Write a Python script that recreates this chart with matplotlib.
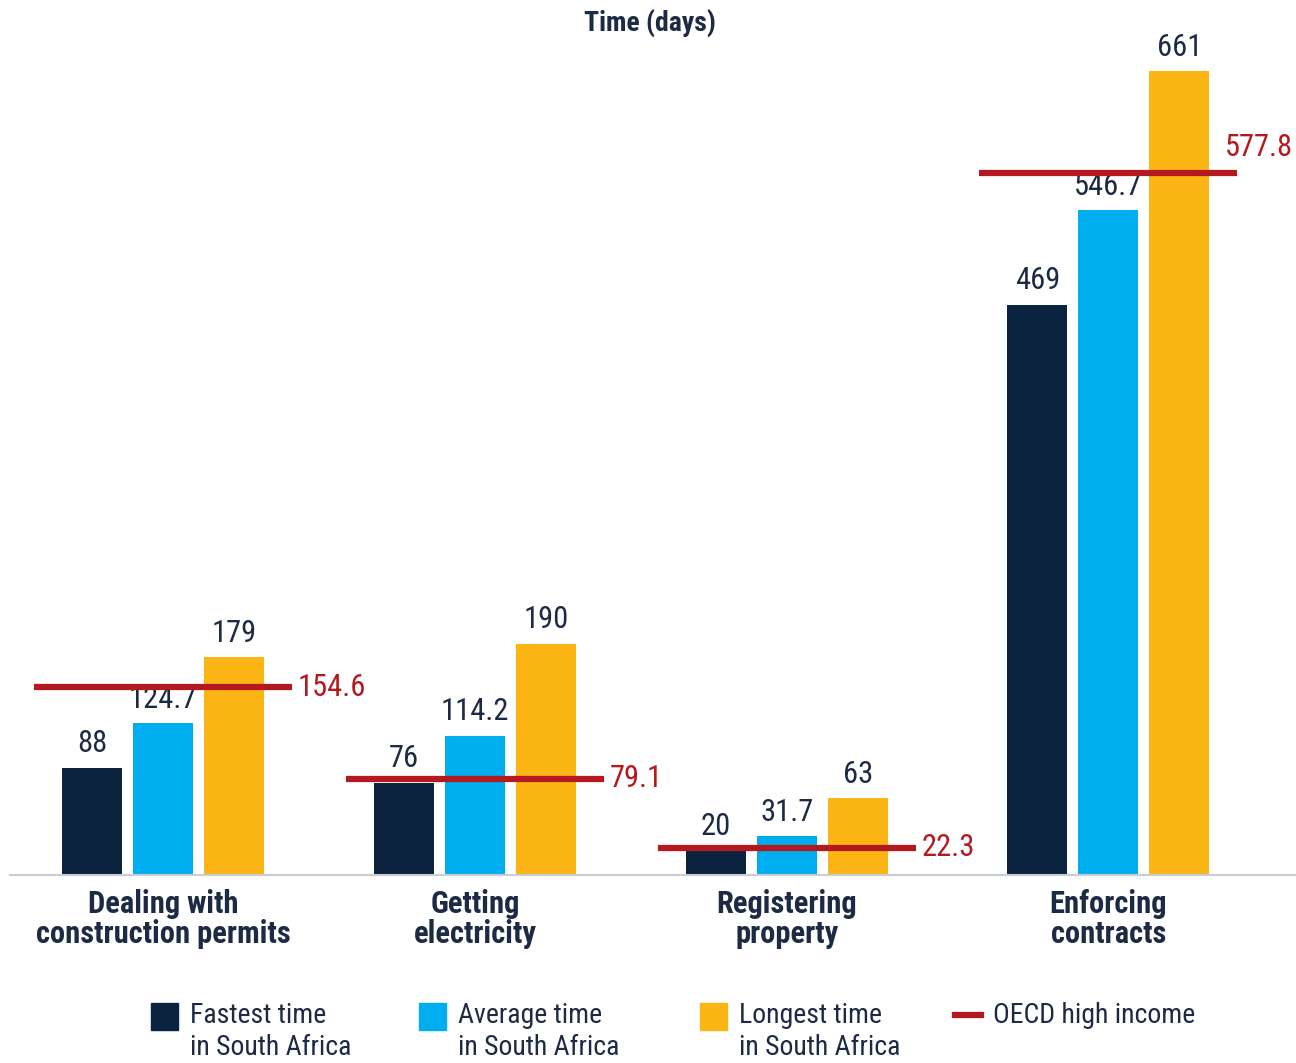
import numpy as np
import matplotlib
matplotlib.use("Agg")
import matplotlib.pyplot as plt
from matplotlib import font_manager
from matplotlib.patches import Rectangle
from matplotlib.lines import Line2D

# data
categories = ["Dealing with\nconstruction permits", "Getting\nelectricity",
              "Registering\nproperty", "Enforcing\ncontracts"]
fastest = [88, 76, 20, 469]
average = [124.7, 114.2, 31.7, 546.7]
longest = [179, 190, 63, 661]
oecd = [154.6, 79.1, 22.3, 577.8]
series_names = ["Fastest time\nin South Africa", "Average time\nin South Africa",
                "Longest time\nin South Africa", "OECD high income"]

NAVY = "#0c2340"
BLUE = "#00aeef"
YELLOW = "#fbb515"
RED = "#b3191f"
TEXT = "#1c2a44"

# pick a narrow font if one is around
names = {f.name for f in font_manager.fontManager.ttflist}
font = "DejaVu Sans"
for cand in ["Liberation Sans Narrow", "Roboto Condensed", "Open Sans Condensed", "Noto Sans"]:
    if cand in names:
        font = cand
        break
plt.rcParams["font.family"] = [font, "DejaVu Sans"]

W, H = 1296, 1063
fig = plt.figure(figsize=(W / 100, H / 100), dpi=100)
# axes placed so the baseline runs from px 10 to 1295 at y=875
ax = fig.add_axes([10 / W, 1 - 875 / H, 1285 / W, 851 / H])

group_x = np.array([0, 1, 2, 3.03])
step = 71 / 312
bw = 60 / 312
half = 129 / 312

for vals, col, off in [(fastest, NAVY, -step), (average, BLUE, 0), (longest, YELLOW, step)]:
    bars = ax.bar(group_x + off, vals, width=bw, color=col, zorder=2)
    for b, v in zip(bars, vals):
        ax.annotate(f"{v:g}", (b.get_x() + b.get_width() / 2, v), xytext=(0, 7),
                    textcoords="offset points", ha="center", va="bottom",
                    fontsize=22, color=TEXT)

for i, (gx, v) in enumerate(zip(group_x, oecd)):
    ax.plot([gx - half, gx + half], [v, v], color=RED, lw=4.5, solid_capstyle="butt", zorder=3)
    if i < len(oecd) - 1:
        ax.annotate(f"{v:g}", (gx + half, v), xytext=(4, 0), textcoords="offset points",
                    ha="left", va="center", fontsize=22, color=RED)
    else:
        # last one sits above the line end, right next to the figure edge
        ax.annotate(f"{v:g}", (gx + half, v), xytext=(40, 18), textcoords="offset points",
                    ha="right", va="center", fontsize=22, color=RED)

ax.set_xlim(-153 / 312, -153 / 312 + 1285 / 312)
ax.set_ylim(0, 700)
ax.set_xticks(group_x)
ax.set_xticklabels(categories, fontsize=22, fontweight="bold", color=TEXT, linespacing=1.0)
ax.tick_params(axis="x", length=0, pad=10)
ax.set_yticks([])
for s in ["top", "right", "left"]:
    ax.spines[s].set_visible(False)
ax.spines["bottom"].set_color("#c9cdd6")
ax.spines["bottom"].set_linewidth(1.5)

fig.text(650 / W, 1 - 23 / H, "Time (days)", ha="center", va="center",
         fontsize=20, fontweight="bold", color=TEXT)

# legend, drawn by hand to match the two-line layout
leg = [(151, NAVY, "box"), (419, BLUE, "box"), (700, YELLOW, "box"), (955, RED, "line")]
for (x0, col, kind), name in zip(leg, series_names):
    if kind == "box":
        fig.patches.append(Rectangle((x0 / W, 1 - 1030 / H), 27 / W, 27 / H,
                                     transform=fig.transFigure, color=col))
        tx = x0 + 39
    else:
        fig.add_artist(Line2D([x0 / W, (x0 + 26) / W], [1 - 1015 / H] * 2,
                              transform=fig.transFigure, color=col, lw=4.5))
        tx = x0 + 38
    fig.text(tx / W, 1 - 1002 / H, name, ha="left", va="top", fontsize=20,
             color=TEXT, linespacing=1.25)

fig.savefig("out.png", dpi=100)
